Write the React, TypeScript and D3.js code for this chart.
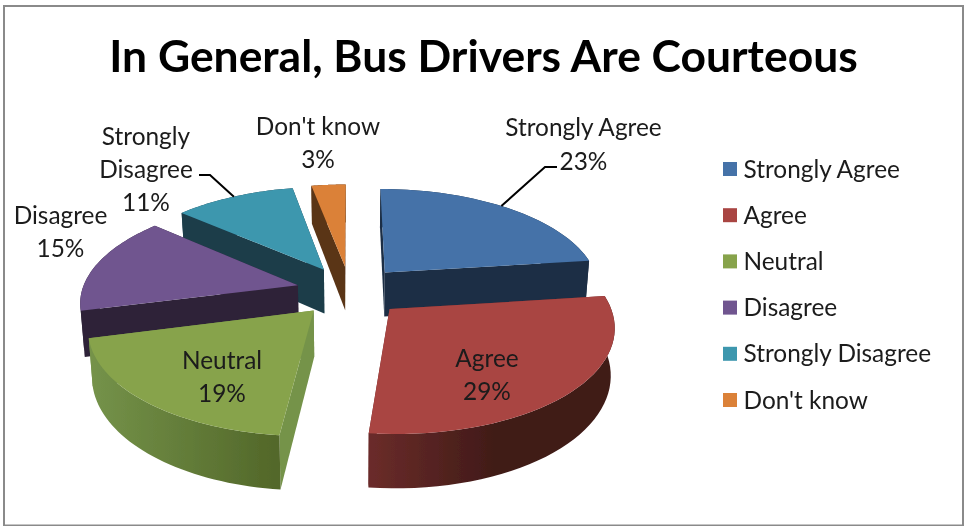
import React from "react";
import * as d3 from "d3";

const categories = ["Strongly Agree", "Agree", "Neutral", "Disagree", "Strongly Disagree", "Don't know"];
// slice sizes as measured on the picture, the labels show them rounded
const shares = [23, 28.7, 19.3, 15.4, 10.6, 3];
const percentLabels = ["23%", "29%", "19%", "15%", "11%", "3%"];
const topColors = ["#4472a8", "#a94442", "#87a34c", "#70558f", "#3e97ae", "#db8138"];
const wallColors = ["#1c2e45", "#6b2c2a", "#75934a", "#2e2238", "#1b3d4a", "#5a3416"];
const wallEndColors = ["#1c2e45", "#3f1a17", "#526729", "#2e2238", "#1b3d4a", "#5a3416"];
// back slices first so the front ones cover their walls
const drawOrder = [5, 0, 4, 3, 2, 1];

const W = 965;
const H = 527;
const cx = 350;
const cy = 291;
const ax = 216; // horizontal radius
const ay = 100.8; // vertical radius
const persp = 0.146;
const explode = 0.25;
const depth = 45;

// disc coordinates (x right, y towards viewer) to screen
const project = (x: number, y: number, down = 0): [number, number] => {
  const w = 1 / (1 - persp * y);
  const shrink = 1 - (0.015 * down) / depth;
  return [cx + ax * x * w * shrink, cy + (ay * y + down) * w];
};

const pie = d3.pie<number>().sort(null)(shares);

const sliceInfo = pie.map((p) => {
  const mid = (p.startAngle + p.endAngle) / 2;
  const ox = explode * Math.sin(mid);
  const oy = -explode * Math.cos(mid);
  const rim = d3.range(0, 41).map((i) => {
    const t = p.startAngle + ((p.endAngle - p.startAngle) * i) / 40;
    return [ox + Math.sin(t), oy - Math.cos(t)];
  });
  return { ox, oy, rim };
});

const line = d3.line();
const closed = (pts: [number, number][]) => (line(pts) as string) + "Z";

function Slice({ index }: { index: number }) {
  const { ox, oy, rim } = sliceInfo[index];
  const top = rim.map(([x, y]) => project(x, y));
  const bottom = rim.map(([x, y]) => project(x, y, depth));
  const apex = project(ox, oy);
  const apexLow = project(ox, oy, depth);
  const last = rim.length - 1;
  const wallFill = `url(#wall${index})`;
  return (
    <g>
      <path d={closed([apex, top[0], bottom[0], apexLow])} fill={wallColors[index]} />
      <path d={closed([apex, top[last], bottom[last], apexLow])} fill={wallColors[index]} />
      <path d={closed([...top, ...bottom.slice().reverse()])} fill={wallFill} />
      <path d={closed([apex, ...top])} fill={topColors[index]} />
    </g>
  );
}

// rim point of a slice, used for the leader lines
const rimPoint = (index: number, t: number) => {
  const [x, y] = sliceInfo[index].rim[Math.round(t * 40)];
  return project(x, y);
};

const labelFont = "Lato, 'Noto Sans', sans-serif";

function Label({ x, y, lines }: { x: number; y: number; lines: string[] }) {
  return (
    <text x={x} y={y} textAnchor="middle" fontFamily={labelFont} fontSize={24.4} fill="#1a1a1a">
      {lines.map((l, i) => (
        <tspan key={i} x={x} dy={i === 0 ? 0 : 33}>
          {l}
        </tspan>
      ))}
    </text>
  );
}

const legendY = d3.scalePoint<string>().domain(categories).range([169, 400]);

export default function App() {
  return (
    <svg
      width={W}
      height={H}
      style={{ position: "absolute", left: 0, top: 0, background: "#fff" }}
    >
      <defs>
        {categories.map((_, i) => (
          <linearGradient key={i} id={`wall${i}`} gradientUnits="userSpaceOnUse" x1={i === 1 ? 368 : 88} x2={i === 1 ? 500 : 278} y1={0} y2={0}>
            <stop offset="0" stopColor={wallColors[i]} />
            <stop offset="1" stopColor={wallEndColors[i]} />
          </linearGradient>
        ))}
        <filter id="soft" x="0" y="0" width="100%" height="100%">
          <feGaussianBlur stdDeviation={0.45} />
        </filter>
      </defs>
      <g filter="url(#soft)">
        <rect x={3.5} y={5.5} width={960} height={520.5} fill="none" stroke="#8a8a8a" strokeWidth={3} />
        <text
          x={483.5}
          y={72}
          textAnchor="middle"
          fontFamily={labelFont}
          fontWeight={700}
          fontSize={44.4}
          fill="#000"
        >
          In General, Bus Drivers Are Courteous
        </text>

        {drawOrder.map((i) => (
          <Slice key={i} index={i} />
        ))}

        <path d={line([[557, 167], [545, 167], rimPoint(0, 0.48)]) as string} fill="none" stroke="#000" strokeWidth={2} />
        <path d={line([[199, 175], [210, 175], rimPoint(4, 0.5)]) as string} fill="none" stroke="#000" strokeWidth={2} />

        <Label x={583.5} y={136} lines={[categories[0]]} />
        <Label x={583.5} y={170} lines={[percentLabels[0]]} />
        <Label x={487} y={367} lines={[categories[1], percentLabels[1]]} />
        <Label x={222} y={369} lines={[categories[2], percentLabels[2]]} />
        <Label x={60.5} y={224} lines={[categories[3], percentLabels[3]]} />
        <Label x={146} y={145} lines={["Strongly", "Disagree", percentLabels[4]]} />
        <Label x={318} y={135} lines={[categories[5], percentLabels[5]]} />

        {categories.map((c, i) => (
          <g key={c} transform={`translate(723,${legendY(c)})`}>
            <rect x={0} y={-7} width={14} height={14} fill={topColors[i]} />
            <text x={20.5} y={8.5} fontFamily={labelFont} fontSize={24.4} fill="#1a1a1a">
              {c}
            </text>
          </g>
        ))}
      </g>
    </svg>
  );
}
